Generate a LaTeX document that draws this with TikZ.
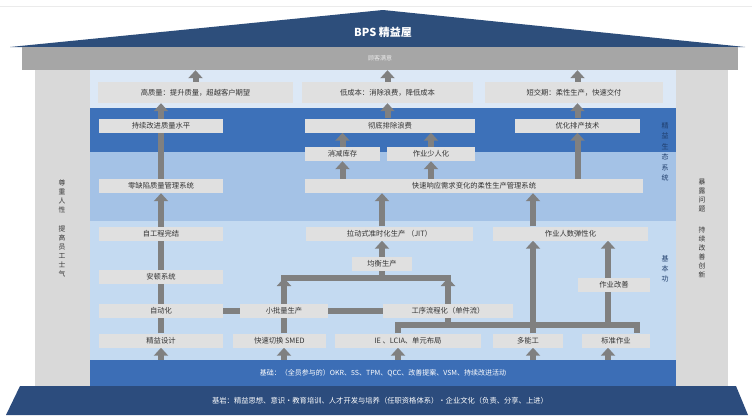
\documentclass[tikz,border=0pt]{standalone}
\usepackage{fontspec}
\setmainfont{Noto Sans CJK SC}
\usepackage{tikz}
\usetikzlibrary{arrows.meta,backgrounds,positioning}
\pgfdeclarelayer{bands}
\pgfsetlayers{bands,background,main}
\definecolor{roofblue}{HTML}{2D4E7B}
\definecolor{beamgray}{HTML}{A6A6A6}
\definecolor{pillargray}{HTML}{D9D9D9}
\definecolor{topblue}{HTML}{DCE8F6}
\definecolor{darkband}{HTML}{3D71B9}
\definecolor{midband}{HTML}{A4C2E6}
\definecolor{lightband}{HTML}{C4DAF1}
\definecolor{baseblue}{HTML}{3C6EB6}
\definecolor{rockblue}{HTML}{2C4C7D}
\definecolor{boxgray}{HTML}{E0E0E0}
\definecolor{conngray}{HTML}{808080}
\definecolor{textgray}{HTML}{333333}
\definecolor{sidenavy}{HTML}{1F3D6B}
\tikzset{
  blk/.style={fill=boxgray,minimum height=14pt,inner sep=0pt,text=textgray,font=\fontsize{7.3}{8}\selectfont},
  goal/.style={blk,minimum height=21pt},
  arr/.style={draw=conngray,line width=6pt,-{Triangle[width=14pt,length=8pt]}},
  bar/.style={draw=conngray,line width=6pt},
  vtxt/.style={align=center,text=textgray,font=\fontsize{6.8}{9}\selectfont}
}
\begin{document}
\begin{tikzpicture}[x=1pt,y=-1pt]
\useasboundingbox (0,0) rectangle (752,415);
\begin{pgfonlayer}{bands}
  \fill[white] (0,0) rectangle (752,415);
  \draw[black!8] (0,6) -- (752,6);
  \fill[roofblue] (10,47) -- (383,10) -- (745,47) -- cycle;
  \fill[pillargray] (35,70) rectangle (90,386);
  \fill[pillargray] (676,70) rectangle (728,386);
  \fill[topblue] (90,70) rectangle (676,108);
  \fill[darkband] (90,108) rectangle (676,152);
  \fill[midband] (90,152) rectangle (676,221);
  \fill[lightband] (90,221) rectangle (676,360);
  \fill[rockblue] (20,386) -- (736,386) -- (748,415) -- (6,415) -- cycle;
\end{pgfonlayer}
\node[text=white,font=\bfseries\fontsize{11}{12}\selectfont] (title) at (383,32) {BPS 精益屋};
\node[fill=beamgray,minimum width=716pt,minimum height=23pt,inner sep=0pt,text=white!92!black,font=\fontsize{6}{7}\selectfont] (beam) at (380,58.5) {顾客满意};
\node[goal,minimum width=195pt] (gzl) at (195.5,92.5) {高质量：提升质量，超越客户期望};
\node[goal,minimum width=171pt] (dcb) at (387.5,92.5) {低成本：消除浪费，降低成本};
\node[goal,minimum width=178pt] (djq) at (574,92.5) {短交期：柔性生产，快速交付};
\node[blk,minimum width=124pt] (cxgj) at (161,125.5) {持续改进质量水平};
\node[blk,minimum width=170pt] (cdpc) at (390,125.5) {彻底排除浪费};
\node[blk,minimum width=125pt] (yhpc) at (577.5,125.5) {优化排产技术};
\node[blk,minimum width=75pt] (xjkc) at (342.5,154) {消减库存};
\node[blk,minimum width=88pt] (zysr) at (431,154) {作业少人化};
\node[blk,minimum width=124pt] (lqx) at (161,186) {零缺陷质量管理系统};
\node[blk,minimum width=338pt] (ksxy) at (474,186) {快速响应需求变化的柔性生产管理系统};
\node[blk,minimum width=124pt] (zgc) at (161,233.5) {自工程完结};
\node[blk,minimum width=167pt] (jit) at (389.5,233.5) {拉动式准时化生产 （JIT）};
\node[blk,minimum width=155pt] (zyrs) at (570.5,233.5) {作业人数弹性化};
\node[blk,minimum width=60pt] (jhsc) at (382,264) {均衡生产};
\node[blk,minimum width=124pt] (adxt) at (161,277) {安顿系统};
\node[blk,minimum width=72pt] (zygs) at (614,285) {作业改善};
\node[blk,minimum width=124pt] (zdh) at (161,311) {自动化};
\node[blk,minimum width=88pt] (xpl) at (284,311) {小批量生产};
\node[blk,minimum width=130pt] (gxl) at (448,311) {工序流程化（单件流）};
\node[blk,minimum width=124pt] (jysj) at (161,340.5) {精益设计};
\node[blk,minimum width=93pt] (smed) at (279.5,340.5) {快速切换 SMED};
\node[blk,minimum width=146pt] (ie) at (408,340.5) {IE 、LCIA、单元布局};
\node[blk,minimum width=70pt] (dng) at (528,340.5) {多能工};
\node[blk,minimum width=68pt] (bzzy) at (616,340.5) {标准作业};
\node[fill=baseblue,minimum width=586pt,minimum height=26pt,inner sep=0pt,text=white,font=\fontsize{7}{8}\selectfont] (base) at (383,373) {基础：（全员参与的）OKR、5S、TPM、QCC、改善提案、VSM、持续改进活动};
\node[text=white,font=\fontsize{7.3}{8}\selectfont] (rock) at (380,401) {基岩：精益思想、意识·教育培训、人才开发与培养（任职资格体系）·企业文化（负责、分享、上进）};
\node[vtxt] (zzrx) at (62,196) {尊\\重\\人\\性};
\node[vtxt] (tgsq) at (62,251) {提\\高\\员\\工\\士\\气};
\node[vtxt,text=sidenavy,font=\fontsize{7}{10.5}\selectfont] (jyst) at (665,152) {精\\益\\生\\态\\系\\统};
\node[vtxt,text=sidenavy,font=\fontsize{7}{10}\selectfont] (jbg) at (665,269) {基\\本\\功};
\node[vtxt,font=\fontsize{6.8}{9.3}\selectfont] (blwt) at (702,195.5) {暴\\露\\问\\题};
\node[vtxt] (cxgs) at (702,252.5) {持\\续\\改\\善\\创\\新};
\coordinate (gl) at (0,278);
\coordinate (jl) at (0,325);
\coordinate (kie) at (398,0);
\coordinate (kdn) at (533,0);
\coordinate (kbz) at (608,0);
\coordinate (kbr) at (637,0);
\begin{scope}[on background layer]
  \draw[arr] (gzl.north) -- (gzl.north |- beam.south);
  \draw[arr] (dcb.north) -- (dcb.north |- beam.south);
  \draw[arr] (yhpc.north |- djq.north) -- (yhpc.north |- beam.south);
  \draw[arr] (jysj.north) -- (lqx.south);
  \draw[arr] (lqx.north) -- (lqx.north |- gzl.south);
  \draw[arr] (cdpc.north -| dcb) -- (dcb.south);
  \draw[arr] (yhpc.north) -- (yhpc.north |- djq.south);
  \draw[arr] (xjkc.north) -- (xjkc.north |- cdpc.south);
  \draw[arr] (zysr.north) -- (zysr.north |- cdpc.south);
  \draw[arr] (ksxy.north -| xjkc) -- (xjkc.south);
  \draw[arr] (ksxy.north -| zysr) -- (zysr.south);
  \draw[arr] (ksxy.north -| yhpc) -- (yhpc.south);
  \draw[arr] (jit.north -| jhsc) -- (ksxy.south -| jhsc);
  \draw[arr] (zyrs.north -| kdn) -- (ksxy.south -| kdn);
  \draw[arr] (jhsc.north) -- (jhsc.north |- jit.south);
  \draw[bar] (jhsc.south) -- (jhsc.south |- gl);
  \draw[bar,line cap=rect] (xpl.north |- gl) -- (gxl.north |- gl);
  \draw[arr] (xpl.north) -- (xpl.north |- gl);
  \draw[arr] (gxl.north) -- (gxl.north |- gl);
  \draw[bar] (zdh.east) -- (xpl.west);
  \draw[bar] (xpl.east) -- (gxl.west);
  \draw[bar] (smed.north -| xpl) -- (xpl.south);
  \draw[bar] (ie.north -| kie) -- (kie |- jl) -- (kbr |- jl) -- (bzzy.north -| kbr);
  \draw[bar] (gxl.south) -- (gxl.south |- jl);
  \draw[bar] (zygs.south -| kbz) -- (kbz |- jl);
  \draw[arr] (dng.north -| kdn) -- (zyrs.south -| kdn);
  \draw[arr] (zygs.north -| kbz) -- (zyrs.south -| kbz);
  \draw[arr] (base.north -| jysj) -- (jysj.south);
  \draw[arr] (base.north -| xpl) -- (smed.south -| xpl);
  \draw[arr] (base.north -| kie) -- (ie.south -| kie);
  \draw[arr] (base.north -| kdn) -- (dng.south -| kdn);
  \draw[arr] (base.north -| kbz) -- (bzzy.south -| kbz);
\end{scope}
\end{tikzpicture}
\end{document}
